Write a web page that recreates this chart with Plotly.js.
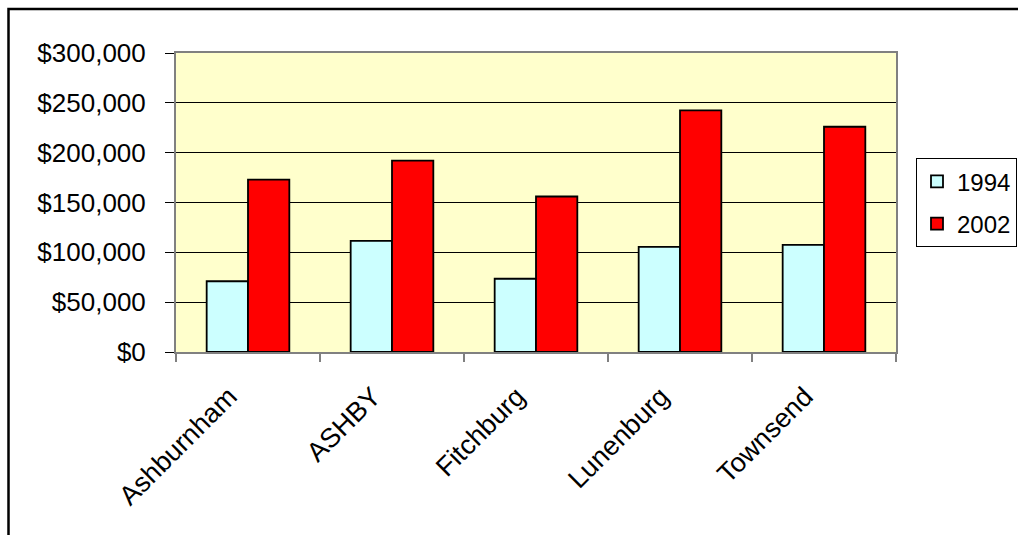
<!DOCTYPE html>
<html>
<head>
<meta charset="utf-8">
<script src="https://cdn.plot.ly/plotly-3.0.1.min.js"></script>
<style>
html,body{margin:0;padding:0;background:#fff;}
#chart{width:1018px;height:535px;}
</style>
</head>
<body>
<div id="chart"></div>
<script>
var towns = ["Ashburnham", "ASHBY", "Fitchburg", "Lunenburg", "Townsend"];
var values1994 = [71000, 111500, 73500, 105500, 107500];
var values2002 = [173000, 192000, 156000, 242500, 226000];
var seriesNames = ["1994", "2002"];
var yTicks = [0, 50000, 100000, 150000, 200000, 250000, 300000];
var yTickText = ["$0", "$50,000", "$100,000", "$150,000", "$200,000", "$250,000", "$300,000"];

var W = 1018, H = 535;
var L = 176, R = 122, T = 52.5, B = 183;
var pw = W - L - R, ph = H - T - B;
function px(x){ return (x - L) / pw; }
function py(y){ return (H - B - y) / ph; }

var font = "Liberation Sans, Arial, sans-serif";

var traces = [
  {type: "bar", name: seriesNames[0], x: towns, y: values1994, legendgroup: "a",
   marker: {color: "#CCFFFF", line: {color: "#000000", width: 1.8}}},
  {type: "bar", name: seriesNames[1], x: towns, y: values2002, legendgroup: "b",
   marker: {color: "#FF0000", line: {color: "#000000", width: 1.8}}}
];

var layout = {
  width: W, height: H,
  margin: {l: L, r: R, t: T, b: B, pad: 0, autoexpand: false},
  paper_bgcolor: "#ffffff",
  plot_bgcolor: "#FFFFCC",
  font: {family: font, size: 24, color: "#000"},
  barmode: "group",
  bargap: 0.426,
  bargroupgap: 0,
  showlegend: true,
  legend: {
    x: px(916), y: py(158), xanchor: "left", yanchor: "top",
    bgcolor: "#ffffff", bordercolor: "#000000", borderwidth: 1,
    font: {family: font, size: 24, color: "#000"},
    tracegroupgap: 8, traceorder: "grouped"
  },
  xaxis: {
    type: "category",
    tickangle: -45,
    showline: true, linecolor: "#808080", linewidth: 2, mirror: true,
    ticks: "outside", tickson: "boundaries", ticklen: 8, tickcolor: "#808080", tickwidth: 2,
    ticklabelstandoff: 16, ticklabelshift: -19,
    showgrid: false, zeroline: false,
    tickfont: {family: font, size: 27, color: "#000"}
  },
  yaxis: {
    range: [0, 300000],
    tickvals: yTicks,
    ticktext: yTickText,
    showline: true, linecolor: "#808080", linewidth: 2, mirror: true,
    ticks: "outside", ticklen: 9, tickcolor: "#000000", tickwidth: 1,
    ticklabelstandoff: 14,
    showgrid: true, gridcolor: "#000000", gridwidth: 1,
    zeroline: false,
    tickfont: {family: font, size: 26, color: "#000"}
  },
  shapes: [{
    type: "rect", xref: "paper", yref: "paper",
    x0: px(8.5), x1: px(1040), y0: py(560), y1: py(8.5),
    line: {color: "#000000", width: 2.5}, fillcolor: "rgba(0,0,0,0)", layer: "above"
  }]
};

Plotly.newPlot("chart", traces, layout, {displayModeBar: false, staticPlot: true});
</script>
</body>
</html>
